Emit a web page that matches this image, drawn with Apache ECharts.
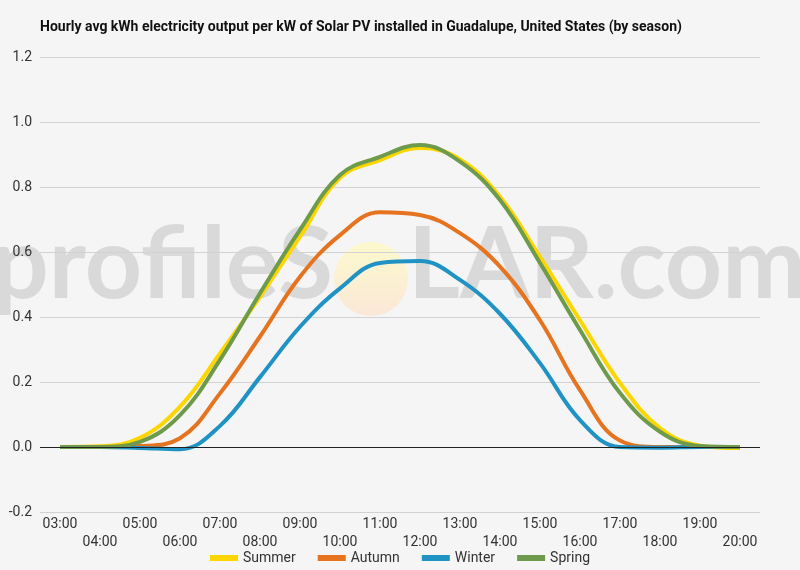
<!DOCTYPE html>
<html>
<head>
<meta charset="utf-8">
<script src="https://cdn.jsdelivr.net/npm/echarts@6/dist/echarts.min.js"></script>
<style>
  html, body { margin: 0; padding: 0; background: #f5f5f5; }
  #main { width: 800px; height: 570px; }
</style>
</head>
<body>
<div id="main"></div>
<script>
var hours = ['03:00', '04:00', '05:00', '06:00', '07:00', '08:00', '09:00', '10:00', '11:00',
             '12:00', '13:00', '14:00', '15:00', '16:00', '17:00', '18:00', '19:00', '20:00'];
var summer = [0, 0.002, 0.028, 0.124, 0.288, 0.462, 0.647, 0.828, 0.883, 0.92, 0.885, 0.77, 0.585, 0.39, 0.197, 0.058, 0.004, -0.003];
var autumn = [0, 0, 0.003, 0.027, 0.165, 0.34, 0.524, 0.652, 0.722, 0.714, 0.658, 0.555, 0.39, 0.175, 0.02, 0, 0, 0];
var winter = [0, 0, -0.003, -0.007, 0.065, 0.215, 0.37, 0.488, 0.566, 0.572, 0.514, 0.41, 0.258, 0.083, 0.0, -0.002, 0, 0];
var spring = [0, 0, 0.016, 0.098, 0.268, 0.473, 0.668, 0.837, 0.893, 0.929, 0.878, 0.76, 0.566, 0.36, 0.166, 0.047, 0.003, 0];

var myChart = echarts.init(document.getElementById('main'));

function line(name, data, color) {
    return {
        name: name,
        type: 'line',
        data: data,
        smooth: 0.4,
        symbol: 'none',
        lineStyle: { width: 4, color: color },
        itemStyle: { color: color }
    };
}

var series = [
    line('Summer', summer, '#fdd600'),
    line('Autumn', autumn, '#e5731f'),
    line('Winter', winter, '#2093c4'),
    line('Spring', spring, '#6e9a4c')
];
// black zero line
series[0].markLine = {
    silent: true,
    symbol: 'none',
    label: { show: false },
    lineStyle: { color: '#222', width: 1, type: 'solid' },
    data: [{ yAxis: 0 }]
};

var wmColor = 'rgba(185,185,185,0.45)';

myChart.setOption({
    backgroundColor: '#f5f5f5',
    animation: false,
    title: {
        text: 'Hourly avg kWh electricity output per kW of Solar PV installed in Guadalupe, United States (by season)',
        left: 40,
        top: 20,
        padding: 0,
        textStyle: { fontFamily: 'Roboto', fontWeight: 'bold', fontSize: 14, color: '#111' }
    },
    graphic: [
        {
            type: 'text', x: 333, y: 316, z: -10,
            style: {
                text: 'profileS', fill: wmColor, align: 'right', verticalAlign: 'bottom',
                font: 'bold 100px Lato'
            }
        },
        {
            type: 'circle', z: -10,
            shape: { cx: 371, cy: 279, r: 37 },
            style: {
                fill: new echarts.graphic.LinearGradient(0, 0, 0, 1, [
                    { offset: 0, color: 'rgba(253,250,200,0.9)' },
                    { offset: 1, color: 'rgba(251,230,212,0.9)' }
                ])
            }
        },
        {
            type: 'text', x: 408, y: 316, z: -10,
            style: {
                text: 'LAR.com', fill: wmColor, align: 'left', verticalAlign: 'bottom',
                font: 'bold 100px Lato'
            }
        }
    ],
    legend: {
        bottom: 0,
        left: 'center',
        itemWidth: 28,
        itemHeight: 6,
        itemGap: 22,
        icon: 'rect',
        textStyle: { fontFamily: 'Roboto', fontSize: 14, color: '#333' },
        data: ['Summer', 'Autumn', 'Winter', 'Spring']
    },
    grid: { left: 40, right: 40, top: 57, bottom: 58 },
    xAxis: {
        type: 'category',
        data: hours,
        boundaryGap: true,
        axisLine: { show: false },
        axisTick: { show: false },
        axisLabel: {
            interval: 0,
            margin: 3,
            fontFamily: 'Roboto',
            fontSize: 14,
            color: '#333',
            lineHeight: 18,
            formatter: function (v, i) { return i % 2 === 1 ? '\n' + v : v; }
        }
    },
    yAxis: {
        type: 'value',
        min: -0.2,
        max: 1.2,
        interval: 0.2,
        axisLine: { show: false },
        axisTick: { show: false },
        axisLabel: {
            fontFamily: 'Roboto',
            fontSize: 14,
            color: '#333',
            margin: 8,
            formatter: function (v) { return v.toFixed(1); }
        },
        splitLine: { lineStyle: { color: '#d2d2d2', width: 1 } }
    },
    series: series
});
</script>
</body>
</html>
